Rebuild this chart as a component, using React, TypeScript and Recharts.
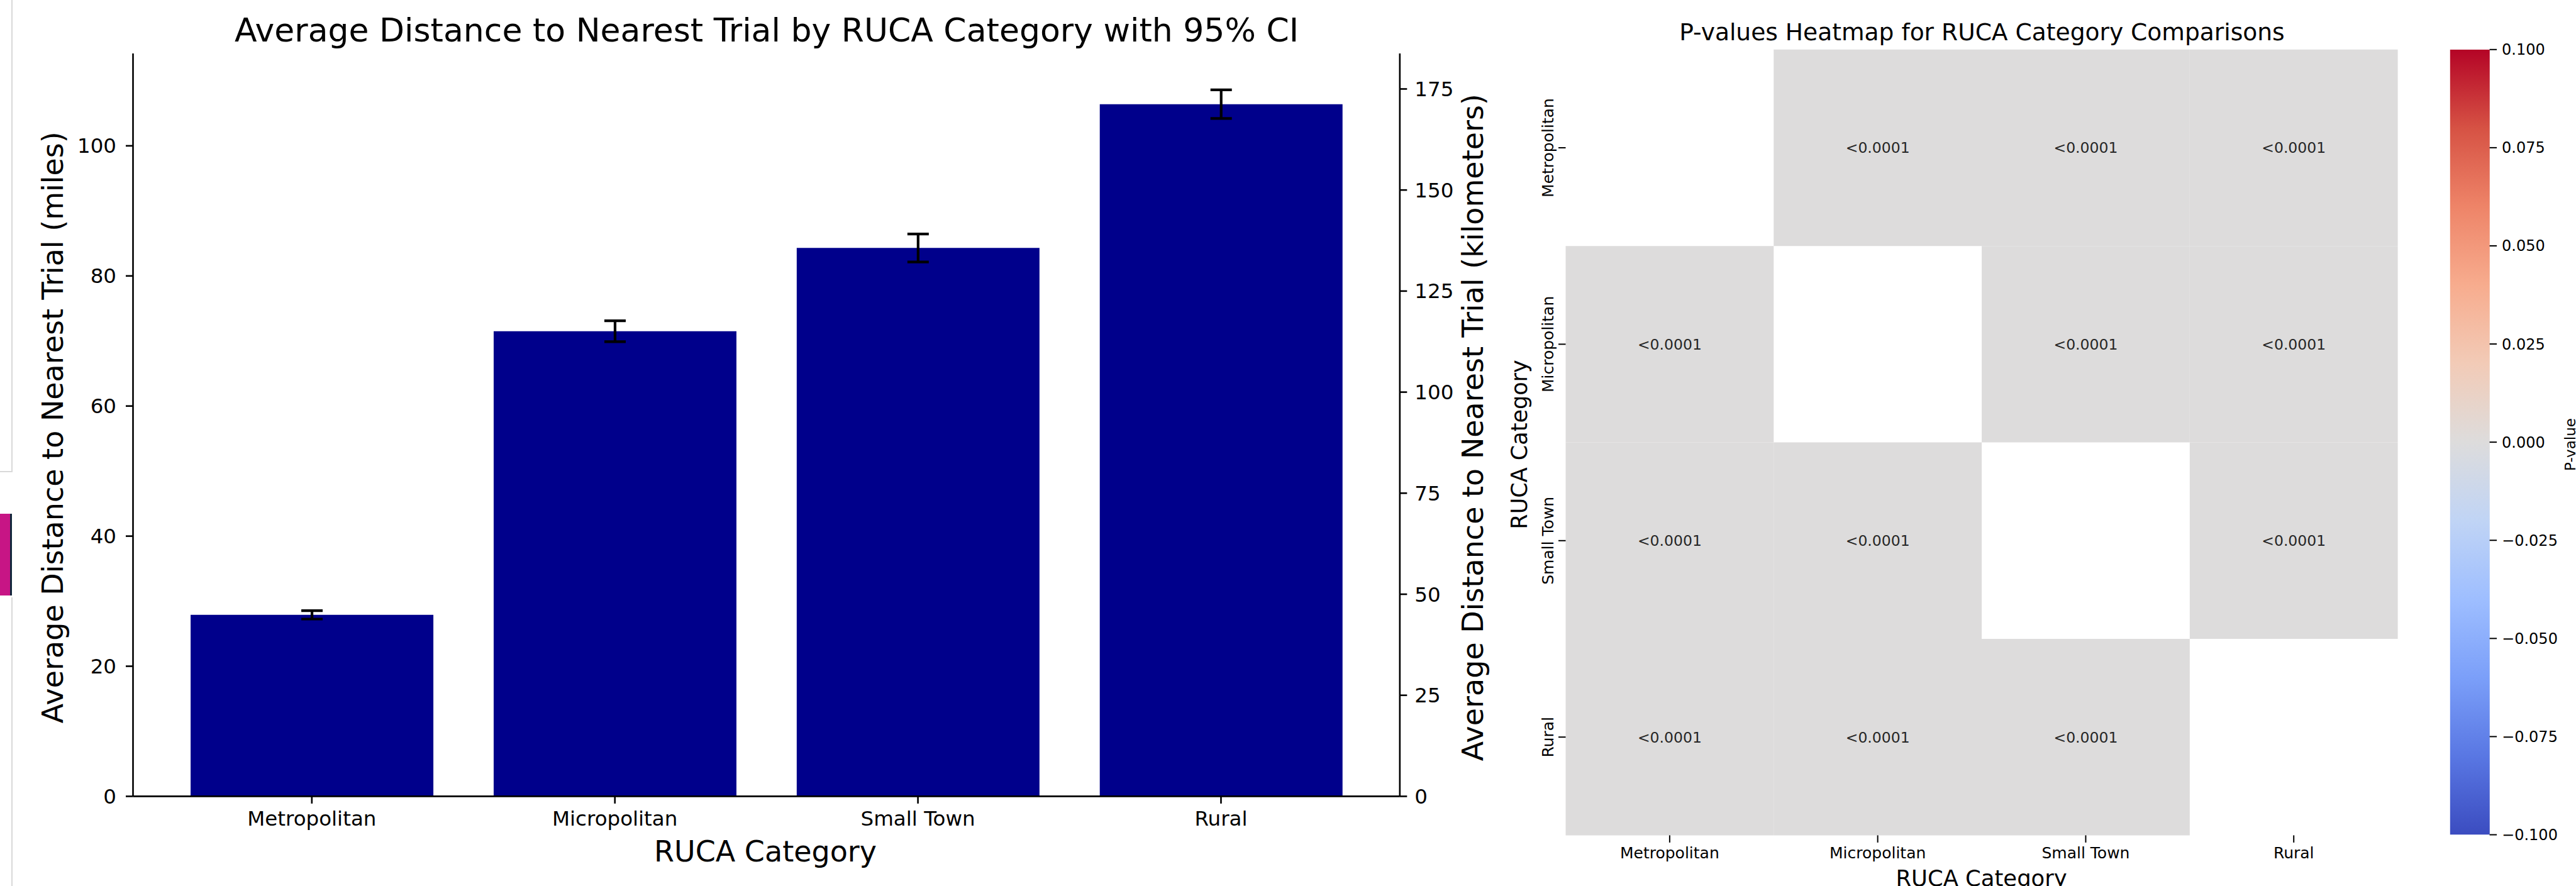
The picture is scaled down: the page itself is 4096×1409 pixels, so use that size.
import React from "react";
import {
  BarChart,
  Bar,
  ErrorBar,
  XAxis,
  YAxis,
  ScatterChart,
  Scatter,
  ReferenceArea,
} from "recharts";

const categories = ["Metropolitan", "Micropolitan", "Small Town", "Rural"];
const milesMean = [27.9, 71.5, 84.3, 106.4];
const milesCI = [0.65, 1.6, 2.15, 2.2];
const milesTicks = [0, 20, 40, 60, 80, 100];
const kmTicks = [0, 25, 50, 75, 100, 125, 150, 175];
const MILES_TOP = 114.2;
const KM_PER_MILE = 1.60934;

// pairwise p-values, diagonal masked (null)
const pValues: (number | null)[][] = [
  [null, 0.00001, 0.00001, 0.00001],
  [0.00001, null, 0.00001, 0.00001],
  [0.00001, 0.00001, null, 0.00001],
  [0.00001, 0.00001, 0.00001, null],
];
const colorbarTicks = [-0.1, -0.075, -0.05, -0.025, 0, 0.025, 0.05, 0.075, 0.1];

// coolwarm approximation
const coolwarm = [
  "#3b4cc0", "#5977e3", "#7b9ff9", "#9ebeff", "#c0d4f5", "#dddcdc",
  "#f2cbb7", "#f7ac8e", "#ee8468", "#d65244", "#b40426",
];

const hexToRgb = (h: string) => [1, 3, 5].map((i) => parseInt(h.slice(i, i + 2), 16));
const coolwarmAt = (t: number) => {
  const c = Math.max(0, Math.min(1, t)) * (coolwarm.length - 1);
  const i = Math.min(coolwarm.length - 2, Math.floor(c));
  const f = c - i;
  const a = hexToRgb(coolwarm[i]);
  const b = hexToRgb(coolwarm[i + 1]);
  const m = a.map((v, k) => Math.round(v + (b[k] - v) * f));
  return `rgb(${m[0]},${m[1]},${m[2]})`;
};
const pColor = (p: number) => coolwarmAt((p + 0.1) / 0.2);

const FONT = "DejaVu Sans";

const barData = categories.map((c, i) => ({ category: c, miles: milesMean[i], ci: milesCI[i] }));

const cells = pValues.flatMap((row, r) =>
  row.map((p, c) => ({ row: r, col: c, x: c + 0.5, y: r + 0.5, p }))
).filter((d) => d.p !== null) as { row: number; col: number; x: number; y: number; p: number }[];

const fmtP = (p: number) => (p < 0.0001 ? "<0.0001" : p.toFixed(4));
const fmtCb = (v: number) => (v < 0 ? "\u2212" : "") + Math.abs(v).toFixed(3);

const axisStroke = { stroke: "#000", strokeWidth: 2.6 };

const HeatYTick = (props: any) => {
  const { x, y, payload } = props;
  return (
    <text
      transform={`translate(${x},${y}) rotate(-90)`}
      textAnchor="middle"
      dy="0.36em"
      fontSize={25}
      fontFamily={FONT}
      fill="#000"
    >
      {categories[Math.floor(payload.value)]}
    </text>
  );
};

const AnnotShape = (props: any) => (
  <text
    x={props.cx}
    y={props.cy}
    dy="0.36em"
    textAnchor="middle"
    fontSize={23.5}
    fontFamily={FONT}
    fill="#262626"
  >
    {fmtP(props.payload.p)}
  </text>
);

export default function App() {
  return (
    <div
      style={{
        position: "absolute",
        left: 0,
        top: 0,
        width: 4096,
        height: 1409,
        overflow: "hidden",
        background: "#fff",
      }}
    >
      {/* screenshot leftovers at the left edge */}
      <div style={{ position: "absolute", left: 18, top: 0, width: 2, height: 750, background: "#d9d9d9" }} />
      <div style={{ position: "absolute", left: 0, top: 749, width: 20, height: 2, background: "#d9d9d9" }} />
      <div style={{ position: "absolute", left: 0, top: 817, width: 16, height: 130, background: "#c71585", borderRight: "3px solid #12283c" }} />
      <div style={{ position: "absolute", left: 18, top: 950, width: 2, height: 459, background: "#d9d9d9" }} />

      {/* left: bar chart */}
      <div style={{ position: "absolute", left: 0, top: 0 }}>
        <BarChart
          width={2390}
          height={1409}
          data={barData}
          margin={{ top: 85, right: 0, bottom: 82.6, left: 0 }}
          barCategoryGap="10%"
        >
          <XAxis
            xAxisId="bottom"
            dataKey="category"
            height={60}
            padding={{ left: 43.4, right: 43.4 }}
            interval={0}
            axisLine={axisStroke}
            tickLine={axisStroke}
            tickSize={11.5}
            tickMargin={12}
            tick={{ fill: "#000", fontSize: 32.5, fontFamily: FONT }}
          />
          <XAxis
            xAxisId="top"
            orientation="top"
            dataKey="category"
            height={0}
            tick={false}
            tickLine={false}
            axisLine={axisStroke}
          />
          <YAxis
            yAxisId="miles"
            width={211.5}
            domain={[0, MILES_TOP]}
            allowDataOverflow
            ticks={milesTicks}
            axisLine={axisStroke}
            tickLine={axisStroke}
            tickSize={11.5}
            tickMargin={15}
            tick={{ fill: "#000", fontSize: 32.5, fontFamily: FONT }}
          />
          <YAxis
            yAxisId="km"
            orientation="right"
            width={164.2}
            domain={[0, MILES_TOP * KM_PER_MILE]}
            allowDataOverflow
            ticks={kmTicks}
            axisLine={axisStroke}
            tickLine={axisStroke}
            tickSize={11.5}
            tickMargin={12}
            tick={{ fill: "#000", fontSize: 32.5, fontFamily: FONT }}
          />
          <Bar dataKey="miles" xAxisId="bottom" yAxisId="miles" fill="#00008B" isAnimationActive={false}>
            <ErrorBar dataKey="ci" width={17} stroke="#000" strokeWidth={4.2} direction="y" />
          </Bar>
        </BarChart>
      </div>

      {/* right: p-value heatmap */}
      <div style={{ position: "absolute", left: 2300, top: 0 }}>
        <ScatterChart width={1600} height={1409} margin={{ top: 78.8, right: 87.4, bottom: 0, left: 0 }}>
          <XAxis
            type="number"
            dataKey="x"
            domain={[0, 4]}
            allowDataOverflow
            ticks={[0.5, 1.5, 2.5, 3.5]}
            tickFormatter={(v: number) => categories[Math.floor(v)]}
            height={80.6}
            axisLine={false}
            tickLine={{ stroke: "#000", strokeWidth: 2 }}
            tickSize={11.5}
            tickMargin={7}
            interval={0}
            tick={{ fill: "#000", fontSize: 25, fontFamily: FONT }}
          />
          <YAxis
            type="number"
            dataKey="y"
            domain={[0, 4]}
            allowDataOverflow
            reversed
            ticks={[0.5, 1.5, 2.5, 3.5]}
            width={189.5}
            axisLine={false}
            tickLine={{ stroke: "#000", strokeWidth: 2 }}
            tickSize={11.5}
            tickMargin={17}
            interval={0}
            tick={<HeatYTick />}
          />
          {cells.map((d) => (
            <ReferenceArea
              key={`${d.row}-${d.col}`}
              x1={d.col}
              x2={d.col + 1}
              y1={d.row}
              y2={d.row + 1}
              fill={pColor(d.p)}
              fillOpacity={1}
              stroke="none"
              ifOverflow="visible"
            />
          ))}
          <Scatter data={cells} shape={<AnnotShape />} isAnimationActive={false} />
        </ScatterChart>
      </div>

      {/* colorbar */}
      <div style={{ position: "absolute", left: 3880, top: 0 }}>
        <BarChart
          width={216}
          height={1409}
          data={[{ name: "cb", range: [-0.1, 0.1] }]}
          margin={{ top: 78.8, right: 0, bottom: 81.5, left: 15.8 }}
          barCategoryGap={0}
        >
          <defs>
            <linearGradient id="coolwarm" x1="0" y1="1" x2="0" y2="0">
              {coolwarm.map((c, i) => (
                <stop key={i} offset={`${(i / (coolwarm.length - 1)) * 100}%`} stopColor={c} />
              ))}
            </linearGradient>
          </defs>
          <XAxis dataKey="name" hide />
          <YAxis
            orientation="right"
            width={137.4}
            domain={[-0.1, 0.1]}
            allowDataOverflow
            ticks={colorbarTicks}
            tickFormatter={fmtCb}
            axisLine={false}
            tickLine={{ stroke: "#000", strokeWidth: 2 }}
            tickSize={11.5}
            tickMargin={8}
            tick={{ fill: "#000", fontSize: 24, fontFamily: FONT }}
          />
          <Bar dataKey="range" fill="url(#coolwarm)" isAnimationActive={false} />
        </BarChart>
      </div>

      {/* titles and axis labels */}
      <svg width={4096} height={1409} style={{ position: "absolute", left: 0, top: 0, pointerEvents: "none" }}>
        <g fontFamily={FONT} fill="#000">
          <text x={1219} y={65.5} fontSize={52} textAnchor="middle">
            Average Distance to Nearest Trial by RUCA Category with 95% CI
          </text>
          <text x={1217} y={1370} fontSize={46} textAnchor="middle">
            RUCA Category
          </text>
          <text transform="translate(99.6,679.7) rotate(-90)" fontSize={46} textAnchor="middle">
            Average Distance to Nearest Trial (miles)
          </text>
          <text transform="translate(2358,679.7) rotate(-90)" fontSize={46} textAnchor="middle">
            Average Distance to Nearest Trial (kilometers)
          </text>
          <text x={3151.5} y={64.3} fontSize={37.6} textAnchor="middle">
            P-values Heatmap for RUCA Category Comparisons
          </text>
          <text x={3150.6} y={1409} fontSize={35.4} textAnchor="middle">
            RUCA Category
          </text>
          <text transform="translate(2427.6,707) rotate(-90)" fontSize={35} textAnchor="middle">
            RUCA Category
          </text>
          <text transform="translate(4095,707) rotate(-90)" fontSize={23} textAnchor="middle">
            P-value
          </text>
        </g>
      </svg>
    </div>
  );
}
